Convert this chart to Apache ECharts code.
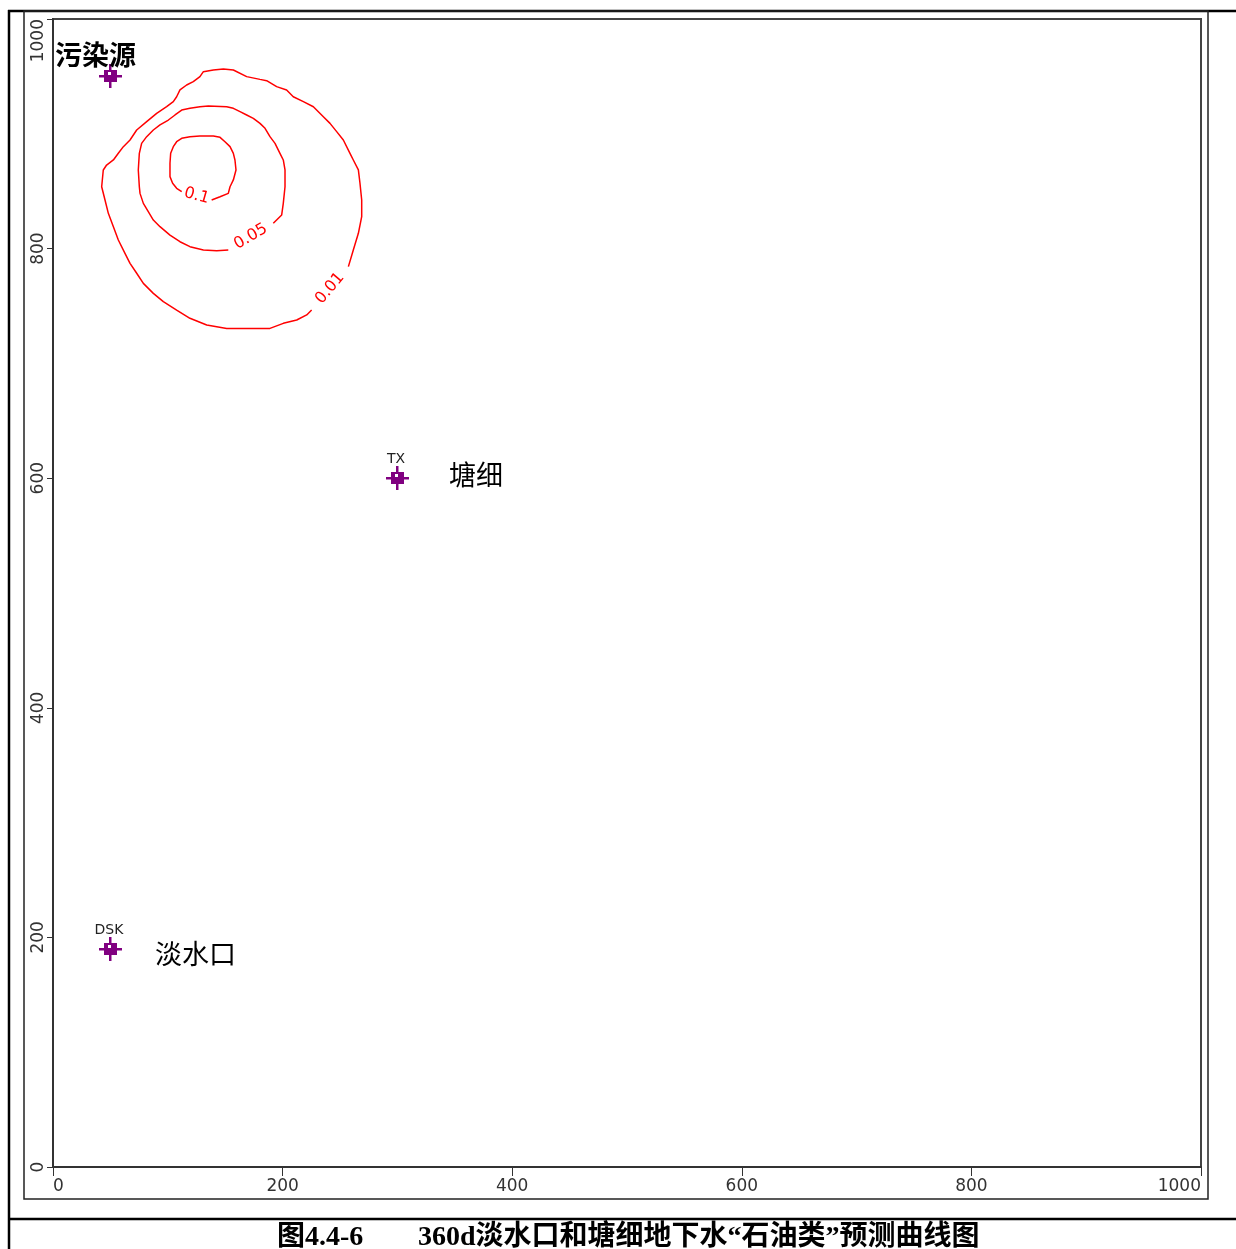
<!DOCTYPE html>
<html>
<head>
<meta charset="utf-8">
<script src="https://cdn.jsdelivr.net/npm/echarts@6/dist/echarts.min.js"></script>
<style>
  html, body { margin: 0; padding: 0; background: #fff; }
  #chart { width: 1236px; height: 1249px; }
</style>
</head>
<body>
<div id="chart"></div>
<script>
// Model domain (m) and axis ticks
const axisMin = 0;
const axisMax = 1000;
const tickStep = 200;

// Concentration isolines (mg/L), each traced as x/y model coordinates.
// Every trace starts and ends at the gap left for its label.
const contourLevels = ['0.01', '0.05', '0.1'];
const contour001 = [
  [257.3,784.3],[261.6,798.8],[266.0,813.3],[268.9,827.8],[268.9,842.3],[267.4,856.9],[266.0,868.5],
  [261.6,877.2],[258.7,883.0],[252.9,894.6],[247.1,901.9],[241.3,909.1],[235.5,914.9],[226.8,923.6],
  [218.1,928.0],[209.3,932.3],[203.5,938.2],[194.8,941.1],[186.1,946.3],[180.3,947.4],[168.7,949.8],
  [157.1,955.6],[148.4,956.4],[139.7,955.6],[131.0,954.1],[128.0,949.8],[122.2,945.4],[116.4,942.5],
  [110.6,938.2],[107.7,932.3],[104.8,928.0],[99.0,923.6],[90.3,917.8],[81.6,910.6],[72.9,903.3],
  [67.1,894.6],[61.3,888.8],[56.9,883.0],[52.6,877.2],[46.7,872.8],[43.8,868.5],[42.4,853.9],
  [45.3,842.3],[48.2,830.7],[52.6,819.1],[56.9,807.5],[62.7,795.9],[67.1,787.2],[72.9,778.5],
  [78.7,769.7],[87.4,761.0],[96.1,753.8],[107.7,746.5],[119.3,739.3],[133.9,733.4],[151.3,730.5],
  [174.5,730.5],[189.0,730.5],[200.6,734.9],[212.3,737.8],[221.0,742.2],[225.3,746.5]
];
const contour005 = [
  [191.9,822.0],[199.2,829.3],[200.6,839.4],[202.1,853.9],[202.1,868.5],[200.6,877.2],[197.7,883.0],
  [193.4,891.7],[189.0,897.5],[184.7,904.8],[180.3,909.1],[174.5,913.5],[168.7,916.4],[162.9,919.3],
  [157.1,922.2],[151.3,923.6],[135.3,924.2],[128.0,923.6],[119.3,922.2],[112.1,920.7],[106.3,916.4],
  [100.5,912.0],[93.2,907.7],[87.4,903.3],[81.6,897.5],[77.2,891.7],[75.2,883.0],[74.3,868.5],
  [75.2,853.9],[75.8,848.1],[78.7,839.4],[83.0,832.2],[87.4,824.9],[93.2,819.1],[101.9,811.8],
  [110.6,806.0],[119.3,801.7],[131.0,798.8],[142.6,798.2],[152.7,798.8]
];
const contour01 = [
  [138.2,842.3],[145.5,845.2],[152.7,848.1],[154.2,853.9],[157.1,859.8],[159.4,868.5],[158.5,877.2],
  [157.1,883.0],[154.2,888.8],[149.8,893.1],[145.5,896.9],[139.7,898.1],[128.0,898.1],[119.3,897.5],
  [112.1,896.1],[107.7,893.1],[104.8,888.8],[102.5,883.0],[101.9,874.3],[101.9,862.7],[104.2,856.9],
  [107.7,852.5],[112.1,849.6]
];

// Wells: pollution source and two observation points
const wellNames = ['污染源', '塘细', '淡水口'];
const wellCodes = ['', 'TX', 'DSK'];
const wellX = [50, 300, 50];
const wellY = [950, 600, 190];

// Caption
const captionNo = '图4.4-6';
const captionText = '360d淡水口和塘细地下水“石油类”预测曲线图';

// ---- layout / style ----
const RED = '#ff0000';
const PURPLE = '#800080';
const TICK_FONT = '"DejaVu Sans", sans-serif';
const CJK_FONT = '"Noto Sans CJK SC", sans-serif';
// name label offset from the well symbol (px) and its look
const nameLayout = [
  { dx: -55, dy: -21, size: 27, weight: 'bold' },
  { dx: 52, dy: -3, size: 27, weight: 'normal' },
  { dx: 45, dy: 5, size: 27, weight: 'normal' }
];

const contours = [contour001, contour005, contour01];

const chart = echarts.init(document.getElementById('chart'), null, { renderer: 'canvas' });

const axisCommon = {
  type: 'value',
  min: axisMin,
  max: axisMax,
  interval: tickStep,
  splitLine: { show: false },
  axisLine: { show: true, onZero: false, lineStyle: { color: '#333', width: 2 } },
  axisTick: { show: true, length: 6, lineStyle: { color: '#333', width: 1 } }
};

const contourSeries = contours.map((pts, k) => ({
  name: contourLevels[k],
  type: 'line',
  data: pts,
  showSymbol: false,
  symbol: 'none',
  smooth: false,
  silent: true,
  lineStyle: { color: RED, width: 1.5 },
  z: 3
}));

// label for each isoline, centred in the gap between the trace's two ends
const contourLabelSeries = {
  type: 'custom',
  silent: true,
  data: contours.map((pts, k) => {
    const a = pts[pts.length - 1], b = pts[0];
    return [(a[0] + b[0]) / 2, (a[1] + b[1]) / 2, k];
  }),
  renderItem(params, api) {
    const k = api.value(2);
    const pts = contours[k];
    const pa = api.coord(pts[pts.length - 1]);
    const pb = api.coord(pts[0]);
    let ang = Math.atan2(-(pb[1] - pa[1]), pb[0] - pa[0]);
    if (ang > Math.PI / 2) ang -= Math.PI;
    if (ang < -Math.PI / 2) ang += Math.PI;
    const c = api.coord([api.value(0), api.value(1)]);
    return {
      type: 'text',
      x: c[0], y: c[1],
      rotation: ang,
      style: {
        text: contourLevels[k],
        fill: RED,
        font: '16px ' + TICK_FONT,
        align: 'center',
        verticalAlign: 'middle'
      }
    };
  },
  z: 4
};

const wellSeries = {
  type: 'custom',
  silent: true,
  data: wellX.map((x, i) => [x, wellY[i]]),
  renderItem(params, api) {
    const i = params.dataIndex;
    const p = api.coord([api.value(0), api.value(1)]);
    const cx = Math.round(p[0]), cy = Math.round(p[1]);
    const kids = [
      { type: 'rect', shape: { x: cx - 1, y: cy - 12, width: 2.5, height: 24 }, style: { fill: PURPLE } },
      { type: 'rect', shape: { x: cx - 11, y: cy - 1, width: 23, height: 2.5 }, style: { fill: PURPLE } },
      { type: 'rect', shape: { x: cx - 6, y: cy - 6, width: 13, height: 12 }, style: { fill: PURPLE } },
      { type: 'rect', shape: { x: cx - 2, y: cy - 4, width: 3, height: 3 }, style: { fill: '#fff' } }
    ];
    if (wellCodes[i]) {
      kids.push({
        type: 'text', x: cx - 1, y: cy - 19,
        style: { text: wellCodes[i], fill: '#222', font: '14px ' + TICK_FONT, align: 'center', verticalAlign: 'middle' }
      });
    }
    const nl = nameLayout[i];
    kids.push({
      type: 'text', x: cx + nl.dx, y: cy + nl.dy,
      style: {
        text: wellNames[i], fill: '#000',
        font: nl.weight + ' ' + nl.size + 'px ' + CJK_FONT,
        align: 'left', verticalAlign: 'middle'
      }
    });
    return { type: 'group', children: kids };
  },
  z: 5
};

const line = (x1, y1, x2, y2, w, c) => ({
  type: 'line', silent: true,
  shape: { x1, y1, x2, y2 },
  style: { stroke: c || '#000', lineWidth: w }
});

const plainNumber = v => String(v);

chart.setOption({
  animation: false,
  backgroundColor: '#fff',
  grid: {
    left: 53, top: 19, width: 1148, height: 1148,
    show: true, borderColor: '#444', borderWidth: 2, backgroundColor: 'transparent'
  },
  xAxis: Object.assign({}, axisCommon, {
    position: 'bottom',
    axisTick: { show: true, length: 9, lineStyle: { color: '#333', width: 1 } },
    axisLabel: {
      color: '#333', fontSize: 17, fontFamily: TICK_FONT, margin: 11,
      formatter: plainNumber, alignMinLabel: 'left', alignMaxLabel: 'right'
    }
  }),
  yAxis: Object.assign({}, axisCommon, {
    position: 'left',
    axisLabel: {
      color: '#333', fontSize: 17, fontFamily: TICK_FONT, margin: 6, rotate: 90,
      formatter: plainNumber, alignMaxLabel: 'right'
    }
  }),
  series: contourSeries.concat([contourLabelSeries, wellSeries]),
  graphic: [
    // table rules
    line(8, 11, 1236, 11, 2.5),
    line(9, 10, 9, 1249, 2.5),
    line(8, 1219, 1236, 1219, 2.5),
    // figure frame
    { type: 'rect', silent: true, shape: { x: 24, y: 11, width: 1184, height: 1188 },
      style: { fill: 'none', stroke: '#222', lineWidth: 1.5 } },
    // caption
    { type: 'text', silent: true, x: 277, y: 1238,
      style: { text: captionNo, fill: '#000', font: 'bold 28px "Liberation Serif", "Noto Sans CJK SC", serif',
               align: 'left', verticalAlign: 'middle' } },
    { type: 'text', silent: true, x: 418, y: 1238,
      style: { text: captionText, fill: '#000', font: 'bold 28px "Liberation Serif", "Noto Sans CJK SC", serif',
               align: 'left', verticalAlign: 'middle' } }
  ]
});
</script>
</body>
</html>
